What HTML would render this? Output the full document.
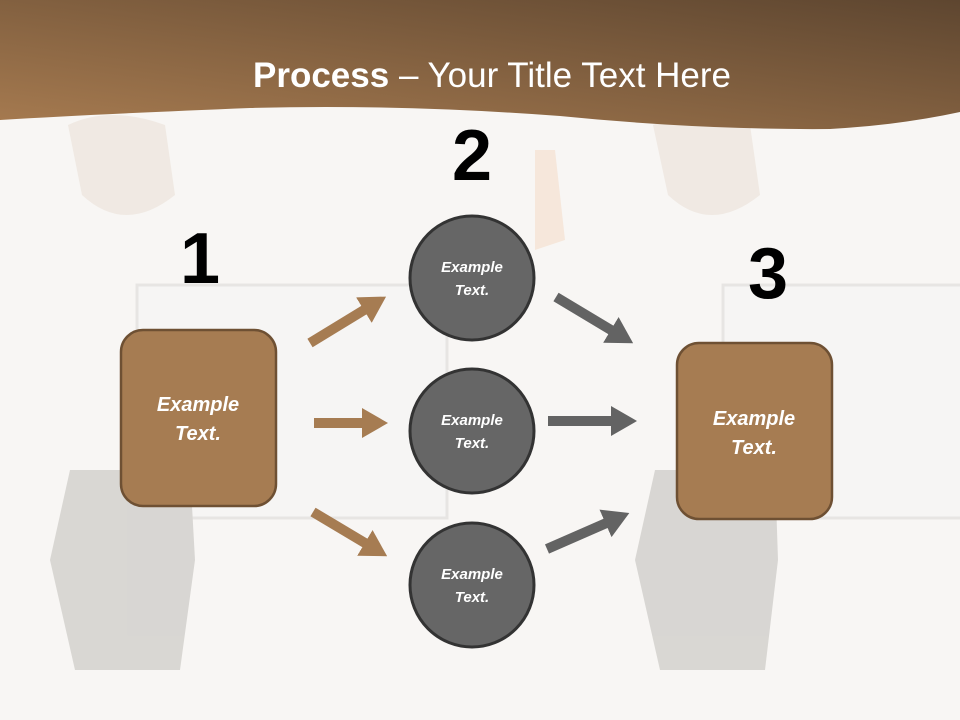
<!DOCTYPE html>
<html><head><style>
body{margin:0;width:960px;height:720px;overflow:hidden;background:#f8f6f4;font-family:"Liberation Sans",sans-serif}
svg{position:absolute;left:0;top:0}
</style></head><body>
<svg width="960" height="720" viewBox="0 0 960 720">
<defs>
<linearGradient id="hg" x1="0" y1="1" x2="1" y2="0">
<stop offset="0" stop-color="#a77b50"/><stop offset="1" stop-color="#5e4630"/></linearGradient>
<marker id="ab" markerWidth="2.6" markerHeight="3" refX="0.6" refY="1.5" orient="auto" markerUnits="strokeWidth"><path d="M0,0 L2.6,1.5 L0,3 z" fill="#a67c52"/></marker>
<marker id="ag" markerWidth="2.6" markerHeight="3" refX="0.6" refY="1.5" orient="auto" markerUnits="strokeWidth"><path d="M0,0 L2.6,1.5 L0,3 z" fill="#636363"/></marker>
</defs>
<rect width="960" height="720" fill="#f8f6f4"/>
<g opacity="0.8">
<rect x="137" y="285" width="310" height="233" fill="#f6f5f4" stroke="#e4e2e0" stroke-width="3"/>
<rect x="723" y="285" width="240" height="233" fill="#f6f5f4" stroke="#e4e2e0" stroke-width="3"/>
<path d="M70,470 L190,470 L195,560 L180,670 L75,670 L50,560 Z" fill="#d1cfcb"/>
<path d="M655,470 L775,470 L778,560 L765,670 L660,670 L635,560 Z" fill="#d1cfcb"/>
<path d="M68,125 Q110,105 165,125 L175,195 Q125,235 82,195 Z" fill="#eee6de"/>
<path d="M653,125 Q700,105 750,125 L760,195 Q710,235 668,195 Z" fill="#eee6de"/>
<path d="M535,150 L555,150 L565,240 L535,250 Z" fill="#f5e4d5"/>
</g>
<path d="M0,0 H960 V112 Q900,125 830,129 Q700,130 560,116 Q400,104 250,108 Q100,114 0,120 Z" fill="url(#hg)"/>
<text x="492" y="87" text-anchor="middle" fill="#fff" font-size="35"><tspan font-weight="bold">Process</tspan> – Your Title Text Here</text>
<g font-weight="bold" font-size="72" text-anchor="middle" fill="#000">
<text x="200" y="283">1</text><text x="472" y="180">2</text><text x="768" y="298">3</text></g>
<g stroke-width="10" fill="none">
<line x1="310" y1="343" x2="369" y2="307" stroke="#a67c52" marker-end="url(#ab)"/>
<line x1="314" y1="423" x2="368" y2="423" stroke="#a67c52" marker-end="url(#ab)"/>
<line x1="313" y1="512" x2="370" y2="546" stroke="#a67c52" marker-end="url(#ab)"/>
<line x1="556" y1="297" x2="616" y2="333" stroke="#636363" marker-end="url(#ag)"/>
<line x1="548" y1="421" x2="617" y2="421" stroke="#636363" marker-end="url(#ag)"/>
<line x1="547" y1="549" x2="611" y2="521" stroke="#636363" marker-end="url(#ag)"/>
</g>
<rect x="121" y="330" width="155" height="176" rx="22" fill="#a67c52" stroke="#6e5033" stroke-width="2.5"/>
<rect x="677" y="343" width="155" height="176" rx="22" fill="#a67c52" stroke="#6e5033" stroke-width="2.5"/>
<g fill="#666" stroke="#333" stroke-width="3">
<circle cx="472" cy="278" r="62"/><circle cx="472" cy="431" r="62"/><circle cx="472" cy="585" r="62"/></g>
<g fill="#fff" font-weight="bold" font-style="italic" text-anchor="middle">
<g font-size="20"><text x="198" y="411">Example</text><text x="198" y="440">Text.</text>
<text x="754" y="425">Example</text><text x="754" y="454">Text.</text></g>
<g font-size="15"><text x="472" y="272">Example</text><text x="472" y="295">Text.</text>
<text x="472" y="425">Example</text><text x="472" y="448">Text.</text>
<text x="472" y="579">Example</text><text x="472" y="602">Text.</text></g>
</g>
</svg>
</body></html>
